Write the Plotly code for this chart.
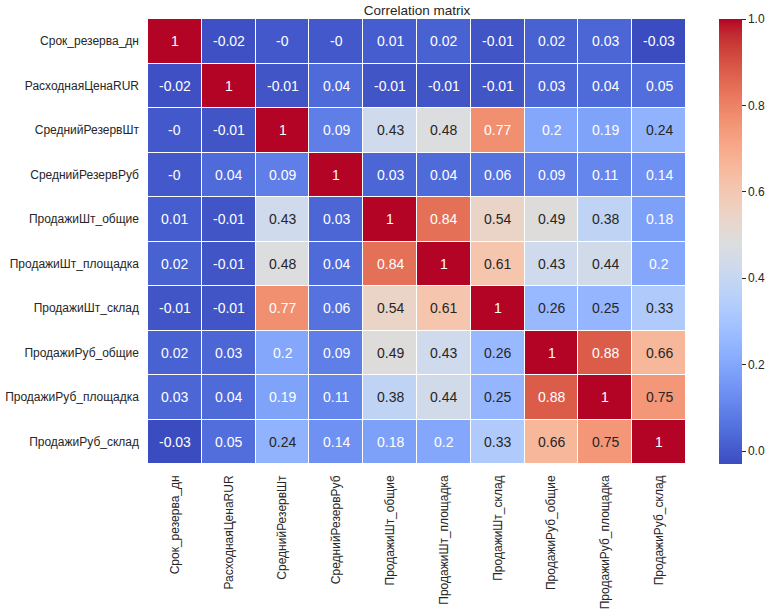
import plotly.graph_objects as go

labels = ["Срок_резерва_дн", "РасходнаяЦенаRUR", "СреднийРезервШт", "СреднийРезервРуб",
          "ПродажиШт_общие", "ПродажиШт_площадка", "ПродажиШт_склад",
          "ПродажиРуб_общие", "ПродажиРуб_площадка", "ПродажиРуб_склад"]

row_srok      = [1, -0.02, -0.0, -0.0, 0.01, 0.02, -0.01, 0.02, 0.03, -0.03]
row_cena      = [-0.02, 1, -0.01, 0.04, -0.01, -0.01, -0.01, 0.03, 0.04, 0.05]
row_rez_sht   = [-0.0, -0.01, 1, 0.09, 0.43, 0.48, 0.77, 0.2, 0.19, 0.24]
row_rez_rub   = [-0.0, 0.04, 0.09, 1, 0.03, 0.04, 0.06, 0.09, 0.11, 0.14]
row_sht_all   = [0.01, -0.01, 0.43, 0.03, 1, 0.84, 0.54, 0.49, 0.38, 0.18]
row_sht_pl    = [0.02, -0.01, 0.48, 0.04, 0.84, 1, 0.61, 0.43, 0.44, 0.2]
row_sht_sk    = [-0.01, -0.01, 0.77, 0.06, 0.54, 0.61, 1, 0.26, 0.25, 0.33]
row_rub_all   = [0.02, 0.03, 0.2, 0.09, 0.49, 0.43, 0.26, 1, 0.88, 0.66]
row_rub_pl    = [0.03, 0.04, 0.19, 0.11, 0.38, 0.44, 0.25, 0.88, 1, 0.75]
row_rub_sk    = [-0.03, 0.05, 0.24, 0.14, 0.18, 0.2, 0.33, 0.66, 0.75, 1]

z = [row_srok, row_cena, row_rez_sht, row_rez_rub, row_sht_all, row_sht_pl,
     row_sht_sk, row_rub_all, row_rub_pl, row_rub_sk]

colorbar_ticks = [0.0, 0.2, 0.4, 0.6, 0.8, 1.0]

# matplotlib "coolwarm" (Moreland) control points
cw = [(59,76,192),(68,90,204),(77,104,215),(87,117,225),(98,130,234),(108,142,241),
      (119,154,247),(130,165,251),(141,176,254),(152,185,255),(163,194,255),(174,201,253),
      (184,208,249),(194,213,244),(204,217,238),(213,219,230),(221,221,221),(229,216,209),
      (236,211,197),(241,204,185),(245,196,173),(247,187,160),(247,177,148),(247,166,135),
      (244,154,123),(241,141,111),(236,127,99),(229,112,88),(222,96,77),(213,80,66),
      (203,62,56),(192,40,47),(180,4,38)]
n = len(cw) - 1
colorscale = [[i / n, "rgb(%d,%d,%d)" % c] for i, c in enumerate(cw)]

zmin = min(min(r) for r in z)
zmax = max(max(r) for r in z)

FONT = "Liberation Sans, Arial, sans-serif"


def color_at(v):
    t = (v - zmin) / (zmax - zmin)
    t = max(0.0, min(1.0, t))
    pos = t * n
    i = min(int(pos), n - 1)
    f = pos - i
    return tuple(cw[i][k] + (cw[i + 1][k] - cw[i][k]) * f for k in range(3))


def luminance(rgb):
    out = []
    for c in rgb:
        c = c / 255.0
        out.append(c / 12.92 if c <= 0.03928 else ((c + 0.055) / 1.055) ** 2.4)
    return 0.2126 * out[0] + 0.7152 * out[1] + 0.0722 * out[2]


def fmt(v):
    return "%g" % round(v, 2)

annotations = []
for i, row in enumerate(z):
    for j, v in enumerate(row):
        col = "#262626" if luminance(color_at(v)) > 0.408 else "white"
        annotations.append(dict(x=labels[j], y=labels[i], text=fmt(v), showarrow=False,
                                font=dict(size=14, color=col, family=FONT)))

fig = go.Figure(go.Heatmap(
    z=z, x=labels, y=labels, colorscale=colorscale, zmin=zmin, zmax=zmax,
    xgap=1, ygap=1, hoverongaps=False,
    colorbar=dict(thickness=23, len=1, lenmode="fraction", y=0.5, yanchor="middle",
                  x=(719 - 148) / 538, xanchor="left", xpad=0, ypad=0, outlinewidth=0,
                  tickvals=colorbar_ticks, ticktext=["%.1f" % t for t in colorbar_ticks],
                  ticks="outside", ticklen=4, tickcolor="#262626",
                  tickfont=dict(size=12, color="#262626", family=FONT)),
))

fig.update_layout(
    width=768, height=612,
    margin=dict(l=148, r=82, t=19, b=148, autoexpand=False),
    paper_bgcolor="white", plot_bgcolor="white",
    font=dict(family=FONT, color="#262626", size=12),
    title=dict(text="Correlation matrix", x=(148 + 686) / 2 / 768, xanchor="center",
               y=1 - 10 / 612, yanchor="middle", font=dict(size=13.5, color="#262626", family=FONT)),
    annotations=annotations,
)
fig.update_xaxes(tickangle=-90, showgrid=False, zeroline=False, showline=False, automargin=False,
                 ticks="", ticklabelstandoff=8, tickfont=dict(size=12, color="#262626", family=FONT))
fig.update_yaxes(autorange="reversed", showgrid=False, zeroline=False, showline=False, automargin=False,
                 ticks="", ticklabelstandoff=8, tickfont=dict(size=12, color="#262626", family=FONT))

fig.write_html("out.html", config={"displayModeBar": False},
               post_script="document.body.style.margin='0';document.body.style.overflow='hidden';")
